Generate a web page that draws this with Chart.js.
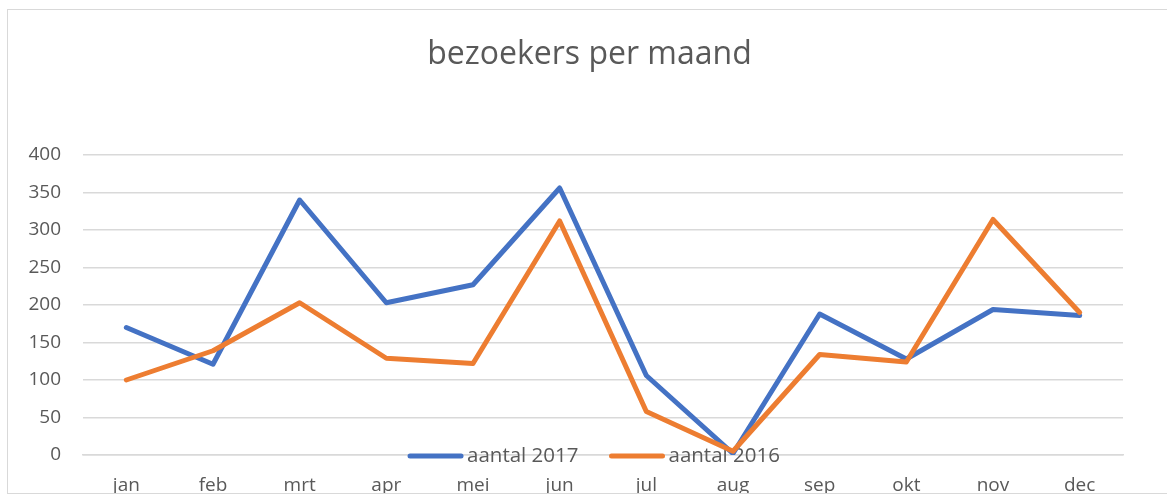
<!DOCTYPE html>
<html>
<head>
<meta charset="utf-8">
<script src="https://cdn.jsdelivr.net/npm/chart.js@4.4.1/dist/chart.umd.min.js"></script>
<style>
  html, body { margin: 0; padding: 0; background: #fff; overflow: hidden; width: 1167px; height: 495px; }
  #frame { position: absolute; left: 7px; top: 9px; width: 1300px; height: 485px; border: 1px solid #d9d9d9; box-sizing: border-box; }
  #wrap { position: absolute; left: 0; top: 0; width: 1182px; height: 493px; overflow: hidden; }
</style>
</head>
<body>
<div id="frame"></div>
<div id="wrap"><canvas id="c" width="1182" height="493"></canvas></div>
<script>
const titleText = 'bezoekers per maand';
const months = ['jan','feb','mrt','apr','mei','jun','jul','aug','sep','okt','nov','dec'];
const label2017 = 'aantal 2017';
const label2016 = 'aantal 2016';
const values2017 = [170, 121, 340, 203, 227, 356, 106, 2, 188, 128, 194, 186];
const values2016 = [100, 139, 203, 129, 122, 312, 58, 5, 134, 124, 314, 190];
const yTicks = [0, 50, 100, 150, 200, 250, 300, 350, 400];

const textColor = '#595959';
const fontFamily = '"Open Sans", "Liberation Sans", sans-serif';

// Center the title over the whole chart frame (which extends past the chart area on the left)
const titleShift = {
  id: 'titleShift',
  afterLayout(chart) {
    if (chart.titleBlock) { chart.titleBlock.left = 56; }
  }
};

const overlayLegend = {
  id: 'overlayLegend',
  beforeDatasetsDraw(chart) {
    const ctx = chart.ctx;
    const ds = chart.data.datasets;
    const fontSize = 20.5;
    ctx.save();
    ctx.font = fontSize + 'px ' + fontFamily;
    const sample = 55, gap = 4, between = 31;
    const widths = ds.map(d => sample + gap + ctx.measureText(d.label).width);
    const total = widths.reduce((a, b) => a + b, 0) + between * (ds.length - 1);
    const cx = 594;
    let x = cx - total / 2;
    const y = chart.scales.y.getPixelForValue(0) + 1;
    ds.forEach((d, i) => {
      ctx.strokeStyle = d.borderColor;
      ctx.lineWidth = 5;
      ctx.lineCap = 'round';
      ctx.beginPath();
      ctx.moveTo(x + 2, y);
      ctx.lineTo(x + sample - 2, y);
      ctx.stroke();
      ctx.fillStyle = textColor;
      ctx.textBaseline = 'middle';
      ctx.textAlign = 'left';
      ctx.fillText(d.label, x + sample + gap, y);
      x += widths[i] + between;
    });
    ctx.restore();
  }
};

new Chart(document.getElementById('c'), {
  type: 'line',
  data: {
    labels: months,
    datasets: [
      { label: label2017, data: values2017, borderColor: '#4472C4', backgroundColor: '#4472C4', borderWidth: 5, order: 1 },
      { label: label2016, data: values2016, borderColor: '#ED7D31', backgroundColor: '#ED7D31', borderWidth: 5, order: 0 }
    ]
  },
  options: {
    responsive: false,
    animation: false,
    devicePixelRatio: 1,
    layout: { padding: { left: 0, right: 59, top: 0, bottom: 0 } },
    elements: {
      point: { radius: 0, hoverRadius: 0 },
      line: { tension: 0, borderCapStyle: 'round', borderJoinStyle: 'round', fill: false }
    },
    plugins: {
      legend: { display: false },
      tooltip: { enabled: false },
      title: {
        display: true,
        text: titleText,
        color: textColor,
        font: { family: fontFamily, size: 32, weight: 'normal', lineHeight: 1.2 },
        padding: { top: 36, bottom: 155 - 36 - 32 * 1.2 }
      }
    },
    scales: {
      x: {
        offset: true,
        grid: { display: false, drawTicks: false, tickLength: 0 },
        border: { display: true, color: '#d9d9d9', width: 1.5 },
        ticks: { color: textColor, font: { family: fontFamily, size: 19 }, padding: 19, maxRotation: 0, autoSkip: false },
        afterFit(scale) { scale.height = 38; }
      },
      y: {
        min: 0,
        max: 400,
        afterBuildTicks(scale) { scale.ticks = yTicks.map(v => ({ value: v })); },
        grid: { color: '#d9d9d9', lineWidth: 1.5, drawTicks: false, tickLength: 0 },
        border: { display: false },
        ticks: { color: textColor, font: { family: fontFamily, size: 19 }, padding: 22 },
        afterFit(scale) { scale.width = 83; }
      }
    }
  },
  plugins: [titleShift, overlayLegend]
});
</script>
</body>
</html>
